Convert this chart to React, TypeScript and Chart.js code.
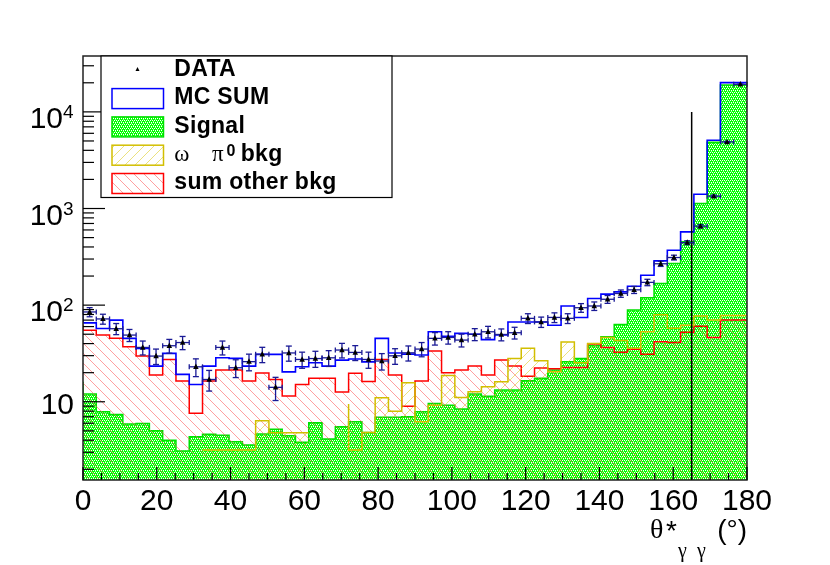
import React, { useEffect, useRef } from 'react';
import { Chart, registerables } from 'chart.js';

Chart.register(...registerables);

// ---- binning (50 bins of 3.6 degrees) ----
const binWidth = 3.6;
const binLow = Array.from({ length: 50 }, (_, i) => +(i * binWidth).toFixed(1));

// ---- series values ----
const dataCounts = [
  85, 72, 57, 49, 36.5, 29.7, 38, 41, 23, 17,
  36.5, 22.5, 26, 31, 14.1, 32, 27.4, 28, 28.5, 34.3,
  32.4, 27.4, 26.4, 29.9, 32.1, 35.1, 45.3, 46.3, 43.5, 50,
  53, 49.7, 51.8, 73, 67, 74.6, 73, 94, 98, 115,
  132, 144, 172, 268, 311, 443, 656, 1341, 4885, 19290,
];
const dataErrors = [
  9.2, 8.5, 7.5, 7.0, 6.0, 5.4, 6.2, 6.4, 4.8, 4.1,
  6.0, 4.7, 5.1, 5.6, 3.8, 5.7, 5.2, 5.3, 5.3, 5.9,
  5.7, 5.2, 5.1, 5.5, 5.7, 5.9, 6.7, 6.8, 6.6, 7.1,
  7.3, 7.0, 7.2, 8.5, 8.2, 8.6, 8.5, 9.7, 9.9, 10.7,
  11.5, 12.0, 13.1, 16.4, 17.6, 21.0, 25.6, 36.6, 69.9, 138.9,
];
const mcSum = [
  87, 65.6, 57.4, 70, 45.3, 35.7, 23.4, 31.7, 19.2, 15.1,
  23.4, 28.5, 28.1, 23.4, 30.9, 30.9, 20.4, 23, 25.3, 23.4,
  27, 27.7, 25.9, 45.3, 32, 31.1, 30.5, 53, 47.5, 51,
  50, 44, 49, 67, 67, 67, 62, 97.8, 74.6, 117,
  130, 137, 157, 204, 287, 370, 573, 1406, 5083, 20090,
];
const signal = [
  16.1, 12.0, 7.9, 7.4, 5.9, 5.95, 5.0, 4.0, 3.1, 4.35,
  4.6, 4.5, 3.86, 3.57, 4.65, 5.2, 4.45, 3.82, 6.06, 4.11,
  5.5, 6.2, 4.8, 6.9, 6.9, 7.0, 7.9, 9.6, 9.2, 8.4,
  12.0, 11.4, 13.2, 13.2, 16.5, 17.5, 21.3, 26, 28, 38,
  47, 63, 89, 119, 167, 270, 454, 1127, 4850, 19000,
];
const omegaPi0 = [
  0, 3.16, 0, 0, 0, 0, 0, 0, 0, 3.16,
  3.16, 3.16, 3.16, 3.16, 6.36, 4.78, 4.78, 4.78, 0, 0,
  9.5, 3.17, 4.8, 11.0, 8.0, 15.7, 6.2, 9.2, 18.7, 11.1,
  12.7, 14.3, 16.1, 28.1, 35.7, 26.6, 20.5, 41.5, 25.3, 40,
  46.3, 43, 35.7, 53, 79.6, 57.5, 62, 77, 70, 78,
];
const otherBkg = [
  63, 55, 49, 45.3, 37, 29.7, 18.9, 27.4, 16.4, 7.6,
  16.4, 21.3, 21.3, 16.4, 19.9, 17, 11.5, 15.1, 17.5, 17.5,
  12.6, 19.7, 16.2, 27.4, 18.9, 9.0, 16.4, 33.5, 20, 21.3,
  23.4, 18.9, 27, 23.4, 18.4, 22.4, 22, 22.6, 22.6, 39.5,
  36.5, 32.5, 35, 31, 41.7, 41, 52.5, 60.6, 46.3, 70,
];

// ---- axes ----
const xMin = 0;
const xMax = 180;
const xTickLabels = [0, 20, 40, 60, 80, 100, 120, 140, 160, 180];
const xMinorStep = 5;
const yMin = 1.55;
const yMax = 37870;
const yDecades = [10, 100, 1000, 10000];
const cutAngle = 165;
const cutTop = 10000;

const legendLabels = ['DATA', 'MC SUM', 'Signal', 'ω π0 bkg', 'sum other bkg'];

const BLUE = '#0000ff';
const GREEN_LINE = '#00e000';
const RED = '#ff0000';
const YELLOW = '#d2be00';
const ERR = '#1a1a96';
const SANS = '"Liberation Sans", Arial, Helvetica, sans-serif';
const SERIF = '"Liberation Serif", "DejaVu Serif", serif';

function stepPoints(vals: number[]) {
  const pts = vals.map((v, i) => ({ x: binLow[i], y: v }));
  pts.push({ x: xMax, y: vals[vals.length - 1] });
  return pts;
}

function makeHatch(ctx: CanvasRenderingContext2D, color: string, dir: 'back' | 'fwd', s = 10) {
  const c = document.createElement('canvas');
  c.width = s;
  c.height = s;
  const g = c.getContext('2d')!;
  g.strokeStyle = color;
  g.lineWidth = 1;
  g.beginPath();
  for (const off of [-s, 0, s]) {
    if (dir === 'back') {
      g.moveTo(off, 0);
      g.lineTo(off + s, s);
    } else {
      g.moveTo(off, s);
      g.lineTo(off + s, 0);
    }
  }
  g.stroke();
  return ctx.createPattern(c, 'repeat')!;
}

function makeDots(ctx: CanvasRenderingContext2D) {
  const c = document.createElement('canvas');
  c.width = 4;
  c.height = 4;
  const g = c.getContext('2d')!;
  g.fillStyle = '#00ff00';
  g.fillRect(0, 0, 4, 4);
  g.fillStyle = '#ffffff';
  g.fillRect(0, 0, 1, 1);
  g.fillRect(2, 0, 1, 1);
  g.fillRect(1, 2, 1, 1);
  g.fillRect(3, 2, 1, 1);
  g.fillStyle = '#90ff90';
  g.fillRect(1, 1, 1, 1);
  g.fillRect(3, 3, 1, 1);
  return ctx.createPattern(c, 'repeat')!;
}

export default function App() {
  const ref = useRef<HTMLCanvasElement>(null);

  useEffect(() => {
    const canvas = ref.current!;
    const c2d = canvas.getContext('2d')!;
    const greenPat = makeDots(c2d);
    const redPat = makeHatch(c2d, 'rgba(255,80,80,0.55)', 'back');
    const yelPat = makeHatch(c2d, 'rgba(215,195,0,0.5)', 'fwd');

    const line = (ctx: CanvasRenderingContext2D, x1: number, y1: number, x2: number, y2: number) => {
      ctx.beginPath();
      ctx.moveTo(x1, y1);
      ctx.lineTo(x2, y2);
      ctx.stroke();
    };
    const tri = (ctx: CanvasRenderingContext2D, x: number, y: number, s: number) => {
      ctx.beginPath();
      ctx.moveTo(x, y - s * 0.6);
      ctx.lineTo(x + s / 2, y + s * 0.4);
      ctx.lineTo(x - s / 2, y + s * 0.4);
      ctx.closePath();
      ctx.fill();
    };

    const rootPlugin = {
      id: 'rootStyle',
      afterDatasetsDraw(chart: any) {
        const { ctx, chartArea: a, scales } = chart;
        const x = scales.x;
        const y = scales.y;
        ctx.save();
        // cut line
        ctx.strokeStyle = '#000';
        ctx.lineWidth = 1.5;
        const cx = x.getPixelForValue(cutAngle);
        line(ctx, cx, y.getPixelForValue(cutTop), cx, a.bottom);
        // data points with error bars
        ctx.strokeStyle = ERR;
        ctx.lineWidth = 1.3;
        dataCounts.forEach((v, i) => {
          const px = x.getPixelForValue(binLow[i] + binWidth / 2);
          const pl = x.getPixelForValue(binLow[i]);
          const pr = x.getPixelForValue(binLow[i] + binWidth);
          const py = y.getPixelForValue(v);
          const pt = y.getPixelForValue(v + dataErrors[i]);
          const pb = y.getPixelForValue(v - dataErrors[i]);
          line(ctx, pl, py, pr, py);
          line(ctx, pl, py - 2.5, pl, py + 2.5);
          line(ctx, pr, py - 2.5, pr, py + 2.5);
          line(ctx, px, pt, px, pb);
          line(ctx, px - 3, pt, px + 3, pt);
          line(ctx, px - 3, pb, px + 3, pb);
        });
        ctx.fillStyle = '#000';
        dataCounts.forEach((v, i) => {
          tri(ctx, x.getPixelForValue(binLow[i] + binWidth / 2), y.getPixelForValue(v), 5.5);
        });
        ctx.restore();
      },
      afterDraw(chart: any) {
        const { ctx, chartArea: a, scales } = chart;
        const x = scales.x;
        const y = scales.y;
        ctx.save();
        // frame
        ctx.strokeStyle = '#222';
        ctx.lineWidth = 1.5;
        ctx.strokeRect(a.left, a.top, a.right - a.left, a.bottom - a.top);
        ctx.strokeStyle = '#000';
        ctx.lineWidth = 1.2;
        // x ticks
        for (let t = xMin; t <= xMax + 1e-6; t += xMinorStep) {
          const px = x.getPixelForValue(t);
          const major = xTickLabels.includes(t);
          line(ctx, px, a.bottom, px, a.bottom - (major ? 13 : 7));
        }
        // y ticks
        for (let d = 1; d <= 10000; d *= 10) {
          for (let k = 1; k <= 9; k++) {
            const v = d * k;
            if (v < yMin || v > yMax) continue;
            const py = y.getPixelForValue(v);
            line(ctx, a.left, py, a.left + (k === 1 ? 22 : 11), py);
          }
        }
        // x labels
        ctx.fillStyle = '#000';
        ctx.font = `30px ${SANS}`;
        ctx.textAlign = 'center';
        ctx.textBaseline = 'alphabetic';
        xTickLabels.forEach((t) => {
          ctx.fillText(String(t), x.getPixelForValue(t), a.bottom + 30);
        });
        // y labels
        yDecades.forEach((v) => {
          const py = y.getPixelForValue(v);
          const exp = Math.round(Math.log10(v));
          ctx.textAlign = 'right';
          if (exp === 1) {
            ctx.font = `30px ${SANS}`;
            ctx.fillText('10', a.left - 9, py + 12);
          } else {
            ctx.font = `30px ${SANS}`;
            ctx.fillText('10', a.left - 20, py + 16);
            ctx.font = `19px ${SANS}`;
            ctx.textAlign = 'left';
            ctx.fillText(String(exp), a.left - 20, py + 6);
          }
        });
        // axis title
        ctx.textAlign = 'left';
        ctx.font = `28px ${SERIF}`;
        ctx.fillText('θ', 650, 538);
        ctx.font = `28px ${SANS}`;
        ctx.fillText('*', 666, 540);
        ctx.font = `20px ${SERIF}`;
        ctx.fillText('γ', 678, 557);
        ctx.fillText('γ', 697, 557);
        ctx.font = `28px ${SANS}`;
        ctx.textAlign = 'right';
        ctx.fillText('(°)', a.right, 539);

        // legend
        const lx = 101;
        const ly = a.top;
        const lw = 291;
        const lh = 141.5;
        ctx.fillStyle = '#fff';
        ctx.fillRect(lx, ly, lw, lh);
        ctx.strokeStyle = '#000';
        ctx.lineWidth = 1.2;
        ctx.strokeRect(lx, ly, lw, lh);
        const base0 = ly + 20;
        const step = 28.3;
        const rx = 112;
        const rw = 51.5;
        const tx = 174.3;
        const fills = [null, null, greenPat, yelPat, redPat];
        const strokes = [null, BLUE, GREEN_LINE, YELLOW, RED];
        legendLabels.forEach((lab, i) => {
          const b = base0 + i * step;
          if (i === 0) {
            ctx.fillStyle = '#000';
            tri(ctx, 137.5, b - 6.5, 4);
          } else {
            if (fills[i]) {
              ctx.fillStyle = fills[i];
              ctx.fillRect(rx, b - 15.7, rw, 20);
            }
            ctx.strokeStyle = strokes[i] as string;
            ctx.lineWidth = 1.5;
            ctx.strokeRect(rx, b - 15.7, rw, 20);
          }
          ctx.fillStyle = '#000';
          ctx.textAlign = 'left';
          (ctx as any).letterSpacing = '0.3px';
          if (i === 3) {
            const parts = lab.split(' ');
            ctx.font = `23px ${SERIF}`;
            ctx.fillText(parts[0], tx, b);
            ctx.fillText(parts[1].charAt(0), 212, b);
            ctx.font = `bold 16px ${SANS}`;
            ctx.fillText(parts[1].slice(1), 226.5, b - 4.5);
            ctx.font = `bold 23px ${SANS}`;
            ctx.fillText(parts[2], 240.7, b);
          } else {
            ctx.font = `bold 23px ${SANS}`;
            ctx.fillText(lab, tx, b);
          }
          (ctx as any).letterSpacing = '0px';
        });
        ctx.restore();
      },
    };

    const chart = new Chart(canvas, {
      type: 'line',
      data: {
        datasets: [
          {
            label: 'MC SUM',
            data: stepPoints(mcSum),
            stepped: 'after',
            borderColor: BLUE,
            borderWidth: 1.6,
            fill: false,
            pointRadius: 0,
            order: 0,
          },
          {
            label: 'omega pi0 bkg',
            data: stepPoints(omegaPi0),
            stepped: 'after',
            borderColor: YELLOW,
            borderWidth: 1.5,
            backgroundColor: yelPat,
            fill: 'start',
            pointRadius: 0,
            order: 1,
          },
          {
            label: 'sum other bkg',
            data: stepPoints(otherBkg),
            stepped: 'after',
            borderColor: RED,
            borderWidth: 1.5,
            backgroundColor: redPat,
            fill: 'start',
            pointRadius: 0,
            order: 2,
          },
          {
            label: 'Signal',
            data: stepPoints(signal),
            stepped: 'after',
            borderColor: GREEN_LINE,
            borderWidth: 1.5,
            backgroundColor: greenPat,
            fill: 'start',
            pointRadius: 0,
            order: 3,
          },
        ] as any,
      },
      options: {
        animation: false,
        responsive: true,
        maintainAspectRatio: false,
        devicePixelRatio: 1,
        events: [],
        layout: { padding: { top: 56, right: 83, left: 0, bottom: 0 } },
        plugins: { legend: { display: false }, tooltip: { enabled: false } },
        elements: { point: { radius: 0 }, line: { tension: 0 } },
        scales: {
          x: {
            type: 'linear',
            min: xMin,
            max: xMax,
            grid: { display: false },
            border: { display: false },
            ticks: { display: false },
            afterFit: (s: any) => {
              s.height = 85;
            },
          },
          y: {
            type: 'logarithmic',
            min: yMin,
            max: yMax,
            grid: { display: false },
            border: { display: false },
            ticks: { display: false },
            afterFit: (s: any) => {
              s.width = 83;
            },
          },
        },
      } as any,
      plugins: [rootPlugin],
    });
    return () => chart.destroy();
  }, []);

  return (
    <div style={{ position: 'fixed', left: 0, top: 0, width: 830, height: 565, background: '#fff' }}>
      <canvas ref={ref} />
    </div>
  );
}
